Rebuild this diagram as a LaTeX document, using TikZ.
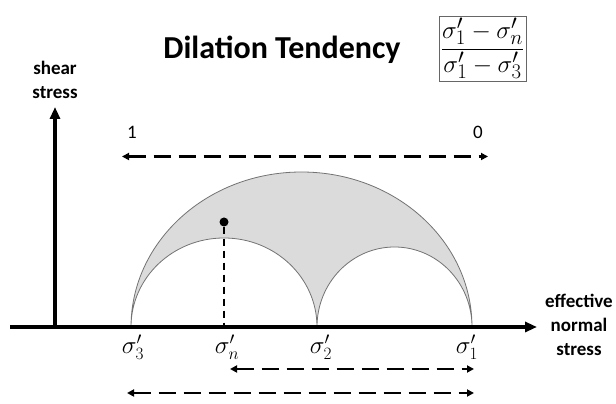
\documentclass[tikz,border=0pt]{standalone}
\usepackage{fontspec}
\setmainfont{Carlito}
\usetikzlibrary{arrows.meta}
\tikzset{
  axisline/.style={line width=3.2pt,-{Triangle[length=12pt,width=10pt]}},
  dasharrow/.style={line width=2.4pt,dash pattern=on 17pt off 8pt,{Triangle[length=7pt,width=7pt]}-{Triangle[length=7pt,width=7pt]}},
  arcline/.style={draw=black!55,line width=0.8pt},
  axlabel/.style={font=\fontsize{19}{24}\selectfont\bfseries,align=center},
  siglabel/.style={font=\fontsize{27}{30}\selectfont},
  numlabel/.style={font=\fontsize{19}{22}\selectfont},
}
\begin{document}
\begin{tikzpicture}[x=1pt,y=1pt]
\useasboundingbox (0,0) rectangle (616,404);
% shaded region
\filldraw[fill=black!14,arcline] (131,77) arc[start angle=180,end angle=0,x radius=170.5,y radius=155]
  arc[start angle=0,end angle=180,x radius=77.5,y radius=80]
  arc[start angle=0,end angle=180,x radius=93,y radius=89] -- cycle;
% axes
\coordinate (xs) at (10,77);
\coordinate (xe) at (537,77);
\coordinate (ys) at (55,77);
\coordinate (ye) at (55,297);
\draw[axisline] (ys) -- (ye);
\draw[axisline] (xs) -- (xe);
% labels
\node[axlabel] (shear) at (55,324) {shear\\stress};
\node[axlabel] (eff) at (579,79) {effective\\normal\\stress};
\node[font=\fontsize{32}{34}\selectfont\bfseries,anchor=base] (title) at (282,345) {Dilation Tendency};
\node[draw=black!60,line width=0.8pt,inner sep=2pt,font=\fontsize{31}{34}\selectfont] (formula) at (482.5,355.5) {$\displaystyle\frac{\sigma'_1-\sigma'_n}{\sigma'_1-\sigma'_3}$};
\node[numlabel] (one) at (132,272) {1};
\node[numlabel] (zero) at (478,272) {0};
% top arrow
\coordinate (ta) at (122,247.5);
\coordinate (tb) at (488,247.5);
\draw[dasharrow] (ta) -- (tb);
% point
\node[circle,fill=black,inner sep=0pt,minimum size=9pt] (pt) at (224,182) {};
\coordinate (pn) at (224,77);
\draw[line width=1.8pt,dash pattern=on 7pt off 5pt] (pt) -- (pn);
% sigma labels
\node[siglabel] (s3) at (133,57) {$\sigma'_3$};
\node[siglabel] (sn) at (227,57) {$\sigma'_n$};
\node[siglabel] (s2) at (321,57) {$\sigma'_2$};
\node[siglabel] (s1) at (467,57) {$\sigma'_1$};
% bottom arrows
\coordinate (a1) at (230,35);
\coordinate (b1) at (474,35);
\coordinate (a2) at (127,11);
\coordinate (b2) at (474,11);
\draw[dasharrow] (a1) -- (b1);
\draw[dasharrow] (a2) -- (b2);
\end{tikzpicture}
\end{document}
